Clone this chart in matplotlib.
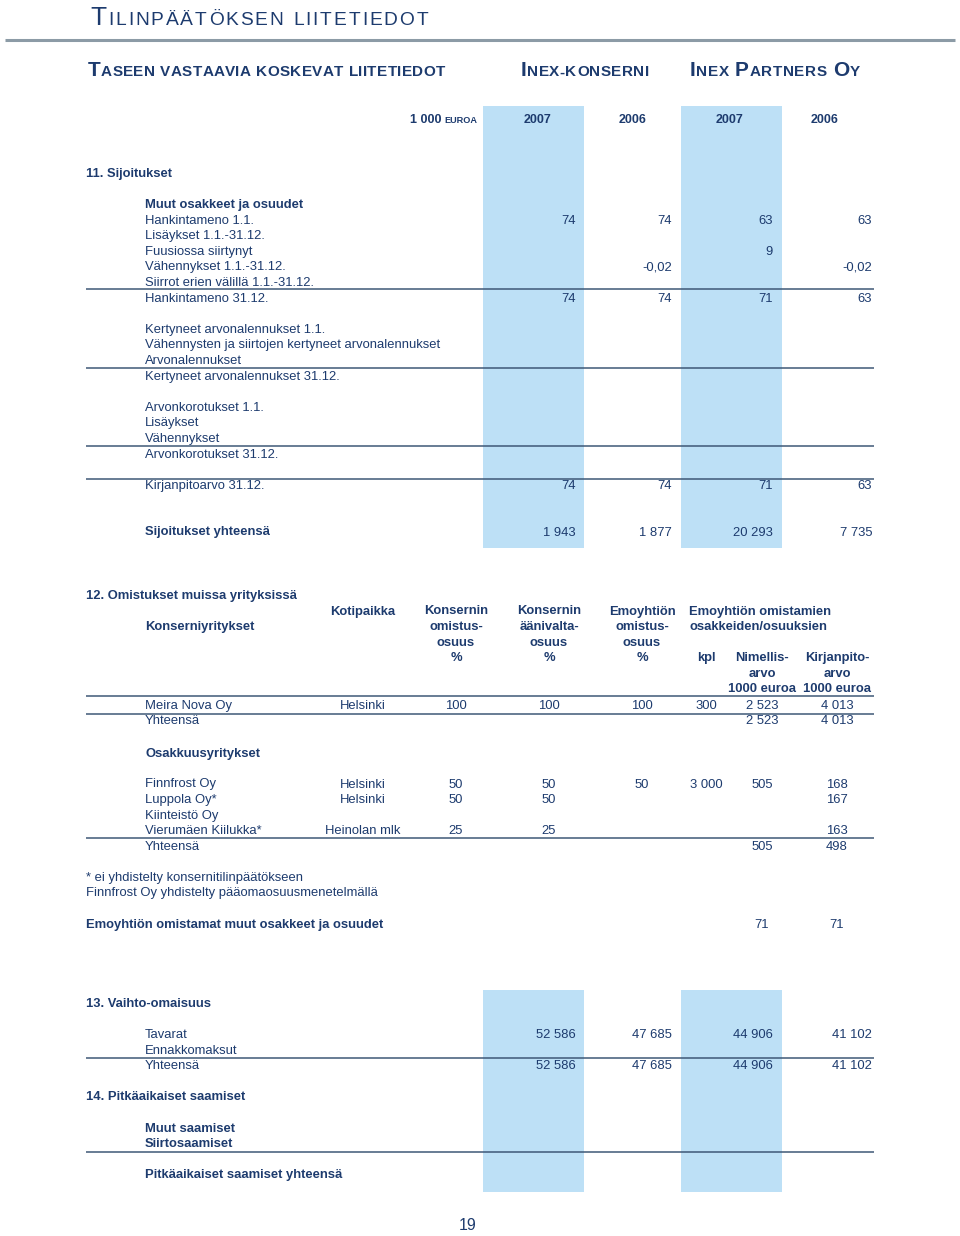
import matplotlib.pyplot as plt
from matplotlib.patches import Rectangle

# ---- data -------------------------------------------------------------
title = "Tilinpäätöksen liitetiedot"
subtitle = "Taseen vastaavia koskevat liitetiedot"
group_names = ["Inex-konserni", "Inex Partners Oy"]
years = ["2007", "2006", "2007", "2006"]

hankinta_11 = ["74", "74", "63", "63"]
fuusio = ["", "", "9", ""]
vahennykset = ["", "-0,02", "", "-0,02"]
hankinta_3112 = ["74", "74", "71", "63"]
kirjanpito_3112 = ["74", "74", "71", "63"]
sijoitukset_yht = ["1 943", "1 877", "20 293", "7 735"]

sec11_rows = [
    ("Hankintameno 1.1.", hankinta_11),
    ("Lisäykset 1.1.-31.12.", None),
    ("Fuusiossa siirtynyt", fuusio),
    ("Vähennykset 1.1.-31.12.", vahennykset),
    ("Siirrot erien välillä 1.1.-31.12.", None),
    ("Hankintameno 31.12.", hankinta_3112),
    ("", None),
    ("Kertyneet arvonalennukset 1.1.", None),
    ("Vähennysten ja siirtojen kertyneet arvonalennukset", None),
    ("Arvonalennukset", None),
    ("Kertyneet arvonalennukset 31.12.", None),
    ("", None),
    ("Arvonkorotukset 1.1.", None),
    ("Lisäykset", None),
    ("Vähennykset", None),
    ("Arvonkorotukset 31.12.", None),
    ("", None),
    ("Kirjanpitoarvo 31.12.", kirjanpito_3112),
]

# section 12: name, kotipaikka, konserni %, aani %, emo %, kpl, nimellis, kirjanpito
konserni_yht = ["Meira Nova Oy", "Helsinki", "100", "100", "100", "300", "2 523", "4 013"]
konserni_sum = ["Yhteensä", "", "", "", "", "", "2 523", "4 013"]
osakkuus = [
    ["Finnfrost Oy", "Helsinki", "50", "50", "50", "3 000", "505", "168"],
    ["Luppola Oy*", "Helsinki", "50", "50", "", "", "", "167"],
    ["Kiinteistö Oy", "", "", "", "", "", "", ""],
    ["Vierumäen Kiilukka*", "Heinolan mlk", "25", "25", "", "", "", "163"],
]
osakkuus_sum = ["Yhteensä", "", "", "", "", "", "505", "498"]
footnotes = ["* ei yhdistelty konsernitilinpäätökseen",
             "Finnfrost Oy yhdistelty pääomaosuusmenetelmällä"]
muut_osakkeet = ["71", "71"]

tavarat = ["52 586", "47 685", "44 906", "41 102"]
vaihto_yht = ["52 586", "47 685", "44 906", "41 102"]

# ---- style ------------------------------------------------------------
NAVY = "#1d3b6e"
BAND = "#bde0f6"
RULE = "#3e5877"
BODY = ["Liberation Sans", "DejaVu Sans"]
FS = 9.4

fig = plt.figure(figsize=(9.6, 12.36), dpi=100)
ax = fig.add_axes([0, 0, 1, 1])
ax.set_xlim(0, 960)
ax.set_ylim(1236, 0)
ax.axis("off")
renderer = fig.canvas.get_renderer()


def txt(x, y, s, ha="left", bold=False, size=FS):
    return ax.text(x, y, s, ha=ha, va="baseline", fontsize=size, color=NAVY,
                   fontweight="bold" if bold else "normal", family=BODY)


def small_caps(x, y, s, big, small, x_end, bold=False):
    # one glyph at a time, tracked out so the line ends at x_end
    glyphs = [(ch.upper(), big if ch.isupper() else small) for ch in s]
    widths = []
    for ch, size in glyphs:
        if ch == " ":
            widths.append(small * 100 / 72 * 0.3)
        else:
            t = txt(0, -100, ch, bold=bold, size=size)
            widths.append(t.get_window_extent(renderer=renderer).width)
            t.remove()
    track = (x_end - x - sum(widths)) / max(len(glyphs) - 1, 1)
    for (ch, size), w in zip(glyphs, widths):
        if ch != " ":
            txt(x, y, ch, bold=bold, size=size)
        x += w + track


def rule(y, x0=86, x1=874):
    ax.plot([x0, x1], [y, y], color=RULE, lw=1.1, solid_capstyle="butt")


# blue bands
for top, bottom in [(106, 548), (990, 1192)]:
    for left in (483, 681):
        ax.add_patch(Rectangle((left, top), 101, bottom - top, color=BAND, lw=0, zorder=0))

# header
small_caps(90, 25, title, 19, 13.8, 428)
ax.plot([5, 955], [40, 40], color="#8c9ba6", lw=2.2, solid_capstyle="butt")
small_caps(88, 76.5, subtitle, 15, 11, 445, bold=True)
small_caps(521, 76.5, group_names[0], 15, 11, 649, bold=True)
small_caps(690, 76.5, group_names[1], 15, 11, 860, bold=True)

e = txt(477, 123, "EUROA", ha="right", bold=True, size=6.6)
w = e.get_window_extent(renderer=renderer).width
txt(477 - w - 3, 123, "1 000", ha="right", bold=True, size=9)
for cx, yr in zip([537, 633, 729, 825], years):
    txt(cx, 123, yr, ha="center", bold=True, size=9)

# section 11
num_right = [576, 672, 773, 872]
step = 15.6
txt(86, 176.7, "11. Sijoitukset", bold=True)
txt(145, 207.9, "Muut osakkeet ja osuudet", bold=True)
y = 223.5
for label, vals in sec11_rows:
    if label:
        txt(145, y, label)
    if vals:
        for xr, v in zip(num_right, vals):
            if v:
                txt(xr, y, v, ha="right")
    y += step
for ly in (289, 367.7, 446, 479):
    rule(ly)
y_sum = 535.5
txt(145, y_sum, "Sijoitukset yhteensä", bold=True)
for xr, v in zip(num_right, sijoitukset_yht):
    txt(xr, y_sum, v, ha="right")

# section 12
cols = [145, 363, 456, 549, 642, 706, 762, 837]
txt(86, 598.5, "12. Omistukset muissa yrityksissä", bold=True)
txt(363, 614.5, "Kotipaikka", ha="center", bold=True)
for cx, lines in zip([456, 549, 642], [["Konsernin", "omistus-", "osuus", "%"],
                                       ["Konsernin", "äänivalta-", "osuus", "%"],
                                       ["Emoyhtiön", "omistus-", "osuus", "%"]]):
    for i, s in enumerate(lines):
        txt(cx, 614.5 + i * 15.6, s, ha="center", bold=True)
txt(689, 614.5, "Emoyhtiön omistamien", bold=True)
txt(689, 630.1, "osakkeiden/osuuksien", bold=True)
txt(145, 630.1, "Konserniyritykset", bold=True)
txt(706, 661.3, "kpl", ha="center", bold=True)
for cx, lines in zip([762, 837], [["Nimellis-", "arvo", "1000 euroa"],
                                  ["Kirjanpito-", "arvo", "1000 euroa"]]):
    for i, s in enumerate(lines):
        txt(cx, 661.3 + i * 15.6, s, ha="center", bold=True)
rule(695.5)


def ownership_row(y, row):
    txt(cols[0], y, row[0])
    for cx, v in zip(cols[1:], row[1:]):
        if v:
            txt(cx, y, v, ha="center")


ownership_row(709, konserni_yht)
rule(714)
ownership_row(724.5, konserni_sum)
txt(145, 756.5, "Osakkuusyritykset", bold=True)
for i, row in enumerate(osakkuus):
    ownership_row(787.5 + i * 15.6, row)
rule(838)
ownership_row(849.8, osakkuus_sum)
txt(86, 880.8, footnotes[0])
txt(86, 896.4, footnotes[1])
txt(86, 927.6, "Emoyhtiön omistamat muut osakkeet ja osuudet", bold=True)
for cx, v in zip([762, 837], muut_osakkeet):
    txt(cx, 927.6, v, ha="center")

# section 13
txt(86, 1006.8, "13. Vaihto-omaisuus", bold=True)
txt(145, 1038, "Tavarat")
for xr, v in zip(num_right, tavarat):
    txt(xr, 1038, v, ha="right")
txt(145, 1053.6, "Ennakkomaksut")
rule(1058)
txt(145, 1069.2, "Yhteensä")
for xr, v in zip(num_right, vaihto_yht):
    txt(xr, 1069.2, v, ha="right")

# section 14
txt(86, 1100.4, "14. Pitkäaikaiset saamiset", bold=True)
txt(145, 1131.6, "Muut saamiset", bold=True)
txt(145, 1147.2, "Siirtosaamiset", bold=True)
rule(1152)
txt(145, 1178.4, "Pitkäaikaiset saamiset yhteensä", bold=True)

txt(468, 1230.5, "19", ha="center", size=11.5)

fig.savefig("out.png", dpi=100)
plt.close(fig)
